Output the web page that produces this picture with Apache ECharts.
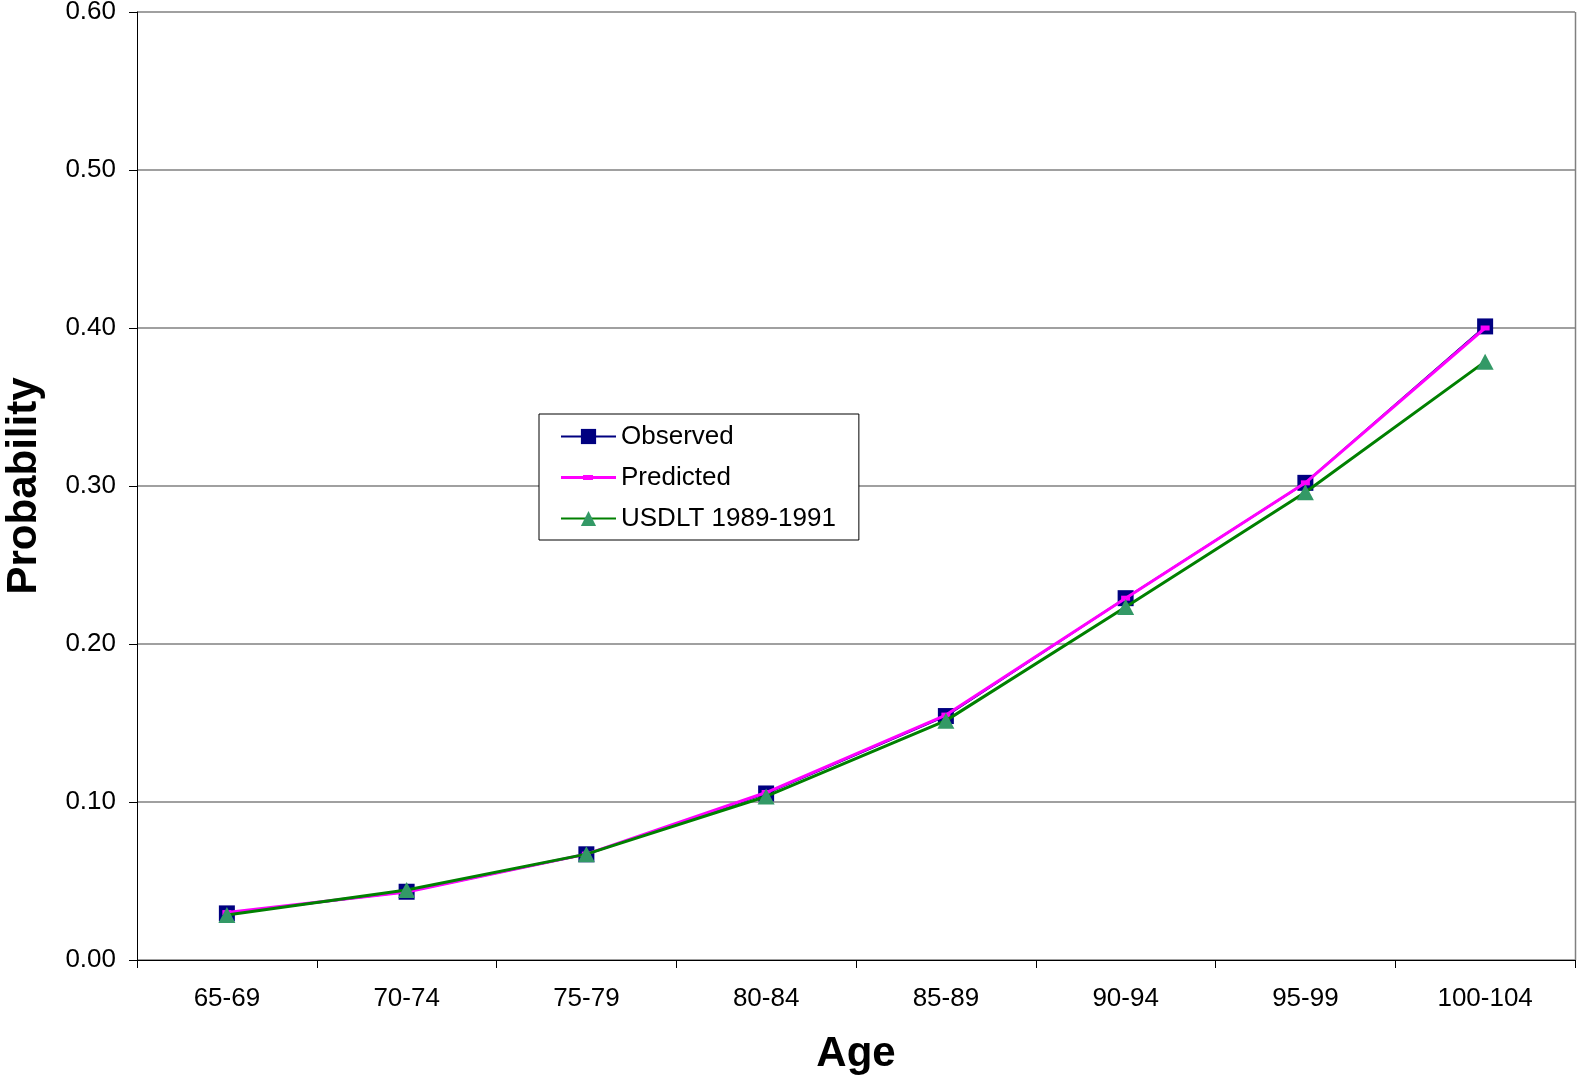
<!DOCTYPE html>
<html>
<head>
<meta charset="utf-8">
<script src="https://cdn.jsdelivr.net/npm/echarts@6/dist/echarts.min.js"></script>
<style>
  html, body { margin: 0; padding: 0; background: #fff; }
  #chart { width: 1577px; height: 1075px; }
</style>
</head>
<body>
<div id="chart"></div>
<script>
// Age groups on the horizontal axis
const ageGroups = ['65-69', '70-74', '75-79', '80-84', '85-89', '90-94', '95-99', '100-104'];

// Probability by age group
const observed  = [0.0295, 0.0432, 0.0669, 0.1054, 0.1544, 0.2290, 0.3020, 0.4010];
const predicted = [0.0300, 0.0430, 0.0670, 0.1060, 0.1550, 0.2290, 0.3020, 0.4000];
const usdlt     = [0.0285, 0.0443, 0.0670, 0.1035, 0.1515, 0.2234, 0.2960, 0.3787];

const FONT = '"Liberation Sans", Arial, sans-serif';

const chart = echarts.init(document.getElementById('chart'), null, { renderer: 'canvas' });

chart.setOption({
  animation: false,
  backgroundColor: '#ffffff',
  textStyle: { fontFamily: FONT, color: '#000' },
  grid: {
    left: 137, top: 12, right: 2, bottom: 115,
    containLabel: false,
    outerBoundsMode: 'none'
  },
  legend: {
    orient: 'vertical',
    left: 539,
    top: 414,
    padding: [9, 23, 8, 21],
    itemGap: 14,
    itemWidth: 55,
    itemHeight: 19,
    borderColor: '#000',
    borderWidth: 1,
    backgroundColor: '#fff',
    textStyle: { fontFamily: FONT, fontSize: 26, lineHeight: 27, color: '#000' },
    data: [
      { name: 'Observed' },
      // thin magenta line with a small dash marker
      { name: 'Predicted', icon: 'path://M0,1h55v3h-55z M22,0h10v5h-10z' },
      { name: 'USDLT 1989-1991' }
    ]
  },
  xAxis: {
    type: 'category',
    data: ageGroups,
    boundaryGap: true,
    name: 'Age',
    nameLocation: 'middle',
    nameGap: 73,
    nameTextStyle: { fontFamily: FONT, fontSize: 42, fontWeight: 'bold', color: '#000' },
    axisLine: { lineStyle: { color: '#000', width: 1 } },
    axisTick: { show: true, alignWithLabel: false, length: 8, lineStyle: { color: '#000' } },
    axisLabel: { fontFamily: FONT, fontSize: 26, color: '#000', margin: 26 },
    splitLine: { show: false }
  },
  yAxis: {
    type: 'value',
    min: 0,
    max: 0.6,
    interval: 0.1,
    name: 'Probability',
    nameLocation: 'middle',
    nameGap: 92,
    nameTextStyle: { fontFamily: FONT, fontSize: 42, fontWeight: 'bold', color: '#000' },
    axisLine: { show: true, lineStyle: { color: '#000', width: 1 } },
    axisTick: { show: true, inside: false, length: 8, lineStyle: { color: '#000' } },
    axisLabel: {
      fontFamily: FONT, fontSize: 26, color: '#000', margin: 21,
      formatter: v => v.toFixed(2)
    },
    splitLine: { show: true, lineStyle: { color: '#808080', width: 1.5 } }
  },
  series: [
    {
      name: 'Observed',
      type: 'line',
      data: observed,
      symbol: 'rect',
      symbolSize: 16,
      showAllSymbol: true,
      lineStyle: { color: '#000080', width: 2 },
      itemStyle: { color: '#000080', borderWidth: 0 },
      z: 2
    },
    {
      name: 'Predicted',
      type: 'line',
      data: predicted,
      symbol: 'rect',
      symbolSize: [9, 5],
      showAllSymbol: true,
      lineStyle: { color: '#ff00ff', width: 3 },
      itemStyle: { color: '#ff00ff', borderWidth: 0 },
      z: 3
    },
    {
      name: 'USDLT 1989-1991',
      type: 'line',
      data: usdlt,
      symbol: 'triangle',
      symbolSize: [17, 16],
      showAllSymbol: true,
      lineStyle: { color: '#008000', width: 3 },
      itemStyle: { color: '#339966', borderWidth: 0 },
      z: 4
    }
  ],
  graphic: [
    // right-hand border of the plot area
    {
      type: 'line',
      shape: { x1: 1575.5, y1: 12, x2: 1575.5, y2: 960 },
      style: { stroke: '#808080', lineWidth: 1.5 },
      z: 1
    }
  ]
});
</script>
</body>
</html>
